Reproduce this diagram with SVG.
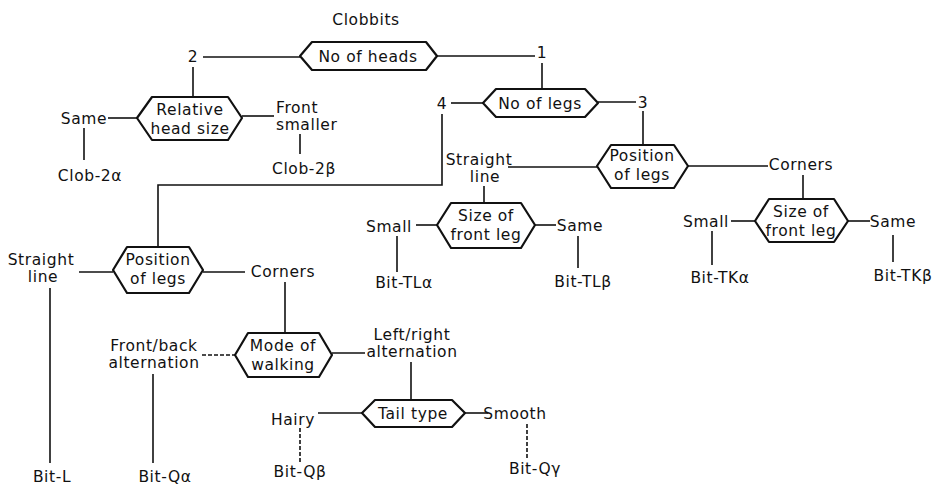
<svg xmlns="http://www.w3.org/2000/svg" width="941" height="487" viewBox="0 0 941 487">
<style>
text{font-family:"DejaVu Sans","Liberation Sans",sans-serif;font-size:15.5px;letter-spacing:0.6px;fill:#111;text-anchor:middle}
.l{text-anchor:start}
.hex{fill:#fff;stroke:#111;stroke-width:2.2;stroke-linejoin:round}
.c line,.c polyline{stroke:#111;stroke-width:1.6;fill:none}
.d{stroke-dasharray:4 2}
</style>
<rect width="941" height="487" fill="#fff"/>
<g class="c" id="connectors">
<line x1="437" y1="56" x2="535" y2="56"/>
<line x1="542" y1="63" x2="542" y2="89"/>
<line x1="203" y1="57" x2="300" y2="57"/>
<line x1="193" y1="67" x2="193" y2="97"/>
<line x1="108" y1="118" x2="137" y2="118"/>
<line x1="84" y1="128" x2="84" y2="160"/>
<line x1="242" y1="116" x2="274" y2="116"/>
<line x1="300" y1="134" x2="300" y2="154"/>
<line x1="451" y1="103" x2="483" y2="103"/>
<line x1="598" y1="102" x2="636" y2="102"/>
<line x1="643" y1="111" x2="643" y2="145"/>
<polyline points="442,114 442,185 158,185 158,247"/>
<line x1="79" y1="272" x2="113" y2="272"/>
<line x1="50" y1="288" x2="50" y2="463"/>
<line x1="203" y1="272" x2="245" y2="272"/>
<line x1="285" y1="282" x2="285" y2="333"/>
<line x1="202" y1="355" x2="235" y2="355" class="d"/>
<line x1="153" y1="374" x2="153" y2="463"/>
<line x1="332" y1="353" x2="365" y2="353"/>
<line x1="411" y1="362" x2="411" y2="400"/>
<line x1="318" y1="413" x2="362" y2="413"/>
<line x1="300" y1="428" x2="300" y2="462" class="d"/>
<line x1="465" y1="413" x2="488" y2="413"/>
<line x1="527" y1="424" x2="527" y2="458" class="d"/>
<line x1="508" y1="167" x2="597" y2="167"/>
<line x1="484" y1="186" x2="484" y2="203"/>
<line x1="416" y1="225" x2="437" y2="225"/>
<line x1="397" y1="236" x2="397" y2="272"/>
<line x1="535" y1="225" x2="556" y2="225"/>
<line x1="578" y1="236" x2="578" y2="268"/>
<line x1="688" y1="166" x2="768" y2="166"/>
<line x1="803" y1="175" x2="803" y2="199"/>
<line x1="731" y1="221" x2="755" y2="221"/>
<line x1="712" y1="231" x2="712" y2="265"/>
<line x1="848" y1="221" x2="870" y2="221"/>
<line x1="893" y1="235" x2="893" y2="262"/>
</g>
<g id="title"><text x="366" y="25">Clobbits</text></g>
<g id="heads">
<polygon class="hex" points="300,56 312,42 426,42 437,56 426,70 312,70"/>
<text x="368" y="62">No of heads</text>
</g>
<g id="relhead">
<polygon class="hex" points="137,118 152,97 228,97 242,118 228,140 152,140"/>
<text x="190" y="115">Relative</text>
<text x="190" y="134">head size</text>
</g>
<g id="legs">
<polygon class="hex" points="483,103 496,89 585,89 598,103 585,117 496,117"/>
<text x="540" y="109">No of legs</text>
</g>
<g id="pos1">
<polygon class="hex" points="113,270 127,247 189,247 203,270 189,293 127,293"/>
<text x="158" y="265">Position</text>
<text x="158" y="284">of legs</text>
</g>
<g id="pos2">
<polygon class="hex" points="597,166 611,145 674,145 688,166 674,188 611,188"/>
<text x="642" y="161">Position</text>
<text x="642" y="180">of legs</text>
</g>
<g id="size1">
<polygon class="hex" points="437,225 451,203 521,203 535,225 521,248 451,248"/>
<text x="486" y="221">Size of</text>
<text x="486" y="240">front leg</text>
</g>
<g id="size2">
<polygon class="hex" points="755,221 769,199 834,199 848,221 834,242 769,242"/>
<text x="801" y="217">Size of</text>
<text x="801" y="236">front leg</text>
</g>
<g id="mode">
<polygon class="hex" points="235,355 248,333 319,333 332,355 319,377 248,377"/>
<text x="283" y="351">Mode of</text>
<text x="283" y="370">walking</text>
</g>
<g id="tail">
<polygon class="hex" points="362,413 375,400 452,400 465,413 452,427 375,427"/>
<text x="413" y="419">Tail type</text>
</g>
<g id="labels">
<text x="193" y="62">2</text>
<text x="542" y="58">1</text>
<text x="442" y="109">4</text>
<text x="643" y="108">3</text>
<text x="84" y="124">Same</text>
<text x="90" y="181">Clob-2α</text>
<text class="l" x="276" y="113">Front</text>
<text class="l" x="276" y="130">smaller</text>
<text x="304" y="174">Clob-2β</text>
<text x="41" y="265">Straight</text>
<text x="43" y="282">line</text>
<text x="283" y="277">Corners</text>
<text x="52" y="482">Bit-L</text>
<text x="154" y="351">Front/back</text>
<text x="154" y="368">alternation</text>
<text x="165" y="482">Bit-Qα</text>
<text x="412" y="340">Left/right</text>
<text x="412" y="357">alternation</text>
<text x="293" y="425">Hairy</text>
<text x="300" y="477">Bit-Qβ</text>
<text x="515" y="419">Smooth</text>
<text x="535" y="474">Bit-Qγ</text>
<text x="479" y="165">Straight</text>
<text x="485" y="182">line</text>
<text x="801" y="170">Corners</text>
<text x="389" y="232">Small</text>
<text x="404" y="288">Bit-TLα</text>
<text x="580" y="231">Same</text>
<text x="583" y="287">Bit-TLβ</text>
<text x="706" y="227">Small</text>
<text x="720" y="283">Bit-TKα</text>
<text x="893" y="227">Same</text>
<text x="903" y="281">Bit-TKβ</text>
</g>
</svg>
